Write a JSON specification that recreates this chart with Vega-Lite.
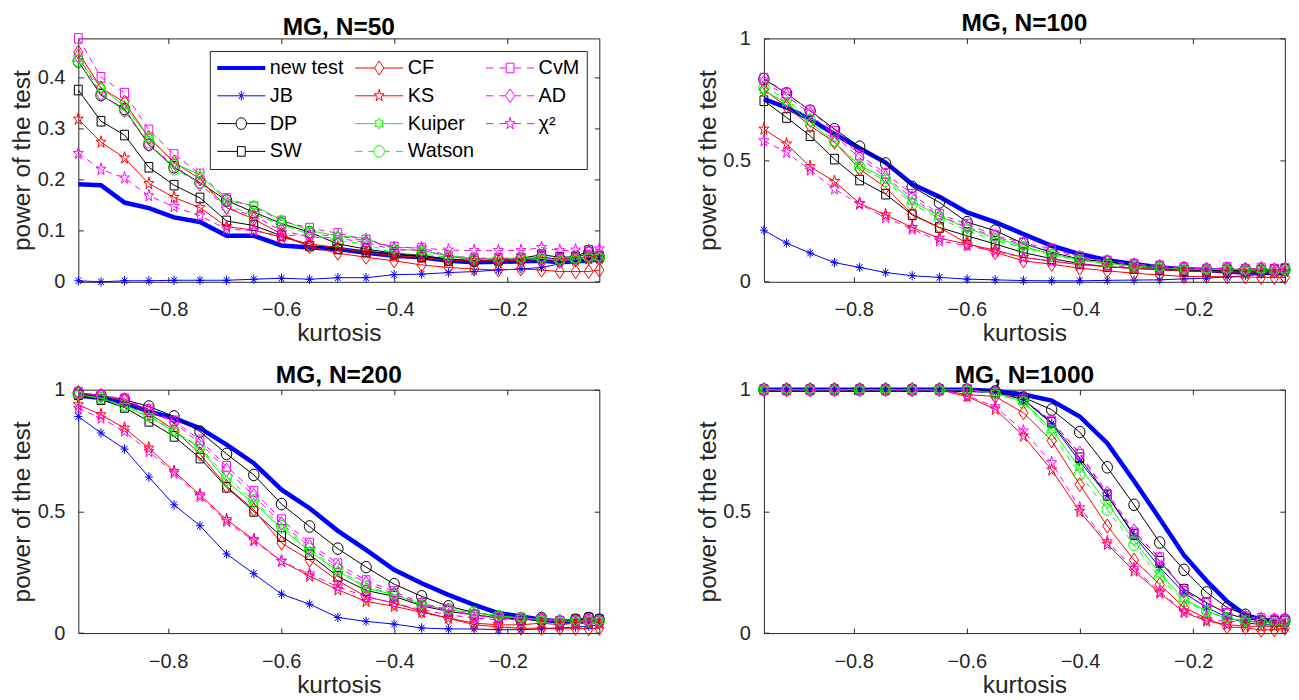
{
"$schema": "https://vega.github.io/schema/vega-lite/v6.json",
"background": "white",
"padding": {"left": 8.3, "top": 10.4, "right": 5, "bottom": 2},
"columns": 2,
"spacing": {"row": 107.3, "column": 164.6},
"bounds": "flush",
"datasets": {"power": [
{"N":50,"k":-0.95858,"new test":0.191,"JB":0.002,"DP":0.431,"SW":0.375,"CF":0.449,"KS":0.318,"Kuiper":0.436,"Watson":0.432,"CvM":0.476,"AD":0.442,"χ²":0.251},
{"N":50,"k":-0.9185,"new test":0.189,"JB":0.0,"DP":0.365,"SW":0.314,"CF":0.379,"KS":0.273,"Kuiper":0.379,"Watson":0.367,"CvM":0.400,"AD":0.367,"χ²":0.220},
{"N":50,"k":-0.87692,"new test":0.155,"JB":0.002,"DP":0.338,"SW":0.287,"CF":0.351,"KS":0.242,"Kuiper":0.344,"Watson":0.335,"CvM":0.369,"AD":0.335,"χ²":0.203},
{"N":50,"k":-0.83387,"new test":0.144,"JB":0.002,"DP":0.268,"SW":0.224,"CF":0.282,"KS":0.192,"Kuiper":0.282,"Watson":0.273,"CvM":0.297,"AD":0.268,"χ²":0.168},
{"N":50,"k":-0.7894,"new test":0.126,"JB":0.003,"DP":0.224,"SW":0.189,"CF":0.234,"KS":0.165,"Kuiper":0.232,"Watson":0.220,"CvM":0.249,"AD":0.227,"χ²":0.147},
{"N":50,"k":-0.7436,"new test":0.117,"JB":0.003,"DP":0.194,"SW":0.164,"CF":0.201,"KS":0.145,"Kuiper":0.209,"Watson":0.194,"CvM":0.211,"AD":0.191,"χ²":0.129},
{"N":50,"k":-0.69659,"new test":0.090,"JB":0.003,"DP":0.159,"SW":0.119,"CF":0.145,"KS":0.108,"Kuiper":0.159,"Watson":0.149,"CvM":0.163,"AD":0.145,"χ²":0.103},
{"N":50,"k":-0.6485,"new test":0.090,"JB":0.005,"DP":0.136,"SW":0.110,"CF":0.123,"KS":0.101,"Kuiper":0.149,"Watson":0.132,"CvM":0.147,"AD":0.129,"χ²":0.100},
{"N":50,"k":-0.59954,"new test":0.071,"JB":0.007,"DP":0.114,"SW":0.090,"CF":0.093,"KS":0.087,"Kuiper":0.121,"Watson":0.112,"CvM":0.119,"AD":0.100,"χ²":0.090},
{"N":50,"k":-0.54994,"new test":0.067,"JB":0.005,"DP":0.097,"SW":0.070,"CF":0.069,"KS":0.074,"Kuiper":0.100,"Watson":0.093,"CvM":0.105,"AD":0.088,"χ²":0.092},
{"N":50,"k":-0.5,"new test":0.064,"JB":0.008,"DP":0.074,"SW":0.064,"CF":0.056,"KS":0.067,"Kuiper":0.090,"Watson":0.080,"CvM":0.095,"AD":0.085,"χ²":0.090},
{"N":50,"k":-0.45007,"new test":0.057,"JB":0.008,"DP":0.064,"SW":0.059,"CF":0.048,"KS":0.057,"Kuiper":0.085,"Watson":0.074,"CvM":0.082,"AD":0.077,"χ²":0.080},
{"N":50,"k":-0.40054,"new test":0.051,"JB":0.014,"DP":0.056,"SW":0.054,"CF":0.041,"KS":0.051,"Kuiper":0.064,"Watson":0.055,"CvM":0.068,"AD":0.062,"χ²":0.067},
{"N":50,"k":-0.35187,"new test":0.048,"JB":0.015,"DP":0.051,"SW":0.048,"CF":0.033,"KS":0.048,"Kuiper":0.061,"Watson":0.054,"CvM":0.066,"AD":0.062,"χ²":0.066},
{"N":50,"k":-0.30458,"new test":0.041,"JB":0.018,"DP":0.044,"SW":0.041,"CF":0.028,"KS":0.041,"Kuiper":0.051,"Watson":0.048,"CvM":0.051,"AD":0.049,"χ²":0.062},
{"N":50,"k":-0.2592,"new test":0.038,"JB":0.020,"DP":0.041,"SW":0.041,"CF":0.025,"KS":0.041,"Kuiper":0.046,"Watson":0.044,"CvM":0.046,"AD":0.044,"χ²":0.061},
{"N":50,"k":-0.2163,"new test":0.039,"JB":0.023,"DP":0.042,"SW":0.042,"CF":0.023,"KS":0.041,"Kuiper":0.046,"Watson":0.044,"CvM":0.046,"AD":0.044,"χ²":0.061},
{"N":50,"k":-0.17643,"new test":0.040,"JB":0.025,"DP":0.044,"SW":0.046,"CF":0.025,"KS":0.042,"Kuiper":0.046,"Watson":0.046,"CvM":0.046,"AD":0.044,"χ²":0.061},
{"N":50,"k":-0.14014,"new test":0.041,"JB":0.028,"DP":0.048,"SW":0.053,"CF":0.023,"KS":0.044,"Kuiper":0.046,"Watson":0.046,"CvM":0.048,"AD":0.044,"χ²":0.067},
{"N":50,"k":-0.10788,"new test":0.038,"JB":0.035,"DP":0.044,"SW":0.048,"CF":0.020,"KS":0.042,"Kuiper":0.042,"Watson":0.042,"CvM":0.044,"AD":0.041,"χ²":0.061},
{"N":50,"k":-0.08,"new test":0.040,"JB":0.038,"DP":0.046,"SW":0.049,"CF":0.020,"KS":0.044,"Kuiper":0.044,"Watson":0.044,"CvM":0.046,"AD":0.044,"χ²":0.062},
{"N":50,"k":-0.05672,"new test":0.041,"JB":0.041,"DP":0.057,"SW":0.061,"CF":0.020,"KS":0.046,"Kuiper":0.048,"Watson":0.048,"CvM":0.049,"AD":0.048,"χ²":0.062},
{"N":50,"k":-0.03805,"new test":0.044,"JB":0.046,"DP":0.048,"SW":0.049,"CF":0.023,"KS":0.046,"Kuiper":0.048,"Watson":0.046,"CvM":0.051,"AD":0.048,"χ²":0.064},
{"N":100,"k":-0.95858,"new test":0.751,"JB":0.212,"DP":0.833,"SW":0.744,"CF":0.790,"KS":0.627,"Kuiper":0.785,"Watson":0.800,"CvM":0.837,"AD":0.820,"χ²":0.579},
{"N":100,"k":-0.9185,"new test":0.716,"JB":0.159,"DP":0.774,"SW":0.675,"CF":0.720,"KS":0.566,"Kuiper":0.735,"Watson":0.750,"CvM":0.775,"AD":0.765,"χ²":0.532},
{"N":100,"k":-0.87692,"new test":0.668,"JB":0.118,"DP":0.703,"SW":0.600,"CF":0.641,"KS":0.473,"Kuiper":0.655,"Watson":0.665,"CvM":0.703,"AD":0.690,"χ²":0.459},
{"N":100,"k":-0.83387,"new test":0.607,"JB":0.079,"DP":0.627,"SW":0.504,"CF":0.573,"KS":0.412,"Kuiper":0.573,"Watson":0.580,"CvM":0.618,"AD":0.600,"χ²":0.381},
{"N":100,"k":-0.7894,"new test":0.549,"JB":0.059,"DP":0.555,"SW":0.418,"CF":0.463,"KS":0.322,"Kuiper":0.478,"Watson":0.470,"CvM":0.521,"AD":0.510,"χ²":0.319},
{"N":100,"k":-0.7436,"new test":0.490,"JB":0.038,"DP":0.486,"SW":0.360,"CF":0.388,"KS":0.275,"Kuiper":0.425,"Watson":0.415,"CvM":0.445,"AD":0.430,"χ²":0.264},
{"N":100,"k":-0.69659,"new test":0.401,"JB":0.025,"DP":0.390,"SW":0.275,"CF":0.278,"KS":0.223,"Kuiper":0.330,"Watson":0.320,"CvM":0.360,"AD":0.345,"χ²":0.216},
{"N":100,"k":-0.6485,"new test":0.349,"JB":0.018,"DP":0.326,"SW":0.223,"CF":0.223,"KS":0.179,"Kuiper":0.270,"Watson":0.260,"CvM":0.278,"AD":0.270,"χ²":0.168},
{"N":100,"k":-0.59954,"new test":0.285,"JB":0.011,"DP":0.245,"SW":0.189,"CF":0.158,"KS":0.155,"Kuiper":0.220,"Watson":0.210,"CvM":0.237,"AD":0.225,"χ²":0.148},
{"N":100,"k":-0.54994,"new test":0.245,"JB":0.008,"DP":0.210,"SW":0.155,"CF":0.121,"KS":0.130,"Kuiper":0.180,"Watson":0.170,"CvM":0.190,"AD":0.185,"χ²":0.125},
{"N":100,"k":-0.5,"new test":0.196,"JB":0.005,"DP":0.157,"SW":0.120,"CF":0.086,"KS":0.100,"Kuiper":0.145,"Watson":0.140,"CvM":0.160,"AD":0.152,"χ²":0.100},
{"N":100,"k":-0.45007,"new test":0.148,"JB":0.004,"DP":0.121,"SW":0.095,"CF":0.072,"KS":0.085,"Kuiper":0.115,"Watson":0.110,"CvM":0.135,"AD":0.128,"χ²":0.085},
{"N":100,"k":-0.40054,"new test":0.114,"JB":0.004,"DP":0.093,"SW":0.075,"CF":0.056,"KS":0.070,"Kuiper":0.090,"Watson":0.088,"CvM":0.103,"AD":0.100,"χ²":0.072},
{"N":100,"k":-0.35187,"new test":0.089,"JB":0.006,"DP":0.082,"SW":0.062,"CF":0.045,"KS":0.062,"Kuiper":0.075,"Watson":0.073,"CvM":0.086,"AD":0.083,"χ²":0.065},
{"N":100,"k":-0.30458,"new test":0.073,"JB":0.007,"DP":0.068,"SW":0.055,"CF":0.035,"KS":0.055,"Kuiper":0.065,"Watson":0.063,"CvM":0.073,"AD":0.070,"χ²":0.060},
{"N":100,"k":-0.2592,"new test":0.059,"JB":0.008,"DP":0.060,"SW":0.050,"CF":0.028,"KS":0.050,"Kuiper":0.058,"Watson":0.057,"CvM":0.066,"AD":0.063,"χ²":0.055},
{"N":100,"k":-0.2163,"new test":0.052,"JB":0.012,"DP":0.053,"SW":0.046,"CF":0.022,"KS":0.045,"Kuiper":0.052,"Watson":0.051,"CvM":0.059,"AD":0.057,"χ²":0.052},
{"N":100,"k":-0.17643,"new test":0.048,"JB":0.015,"DP":0.050,"SW":0.045,"CF":0.022,"KS":0.042,"Kuiper":0.050,"Watson":0.049,"CvM":0.052,"AD":0.052,"χ²":0.050},
{"N":100,"k":-0.14014,"new test":0.042,"JB":0.020,"DP":0.052,"SW":0.048,"CF":0.020,"KS":0.040,"Kuiper":0.052,"Watson":0.050,"CvM":0.059,"AD":0.055,"χ²":0.052},
{"N":100,"k":-0.10788,"new test":0.038,"JB":0.025,"DP":0.050,"SW":0.045,"CF":0.020,"KS":0.040,"Kuiper":0.048,"Watson":0.047,"CvM":0.052,"AD":0.052,"χ²":0.050},
{"N":100,"k":-0.08,"new test":0.038,"JB":0.030,"DP":0.048,"SW":0.047,"CF":0.018,"KS":0.040,"Kuiper":0.050,"Watson":0.049,"CvM":0.057,"AD":0.055,"χ²":0.052},
{"N":100,"k":-0.05672,"new test":0.036,"JB":0.033,"DP":0.048,"SW":0.050,"CF":0.018,"KS":0.040,"Kuiper":0.047,"Watson":0.046,"CvM":0.052,"AD":0.050,"χ²":0.050},
{"N":100,"k":-0.03805,"new test":0.034,"JB":0.036,"DP":0.050,"SW":0.052,"CF":0.018,"KS":0.042,"Kuiper":0.050,"Watson":0.049,"CvM":0.055,"AD":0.052,"χ²":0.052},
{"N":200,"k":-0.95858,"new test":0.976,"JB":0.890,"DP":0.986,"SW":0.979,"CF":0.986,"KS":0.938,"Kuiper":0.979,"Watson":0.980,"CvM":0.990,"AD":0.990,"χ²":0.924},
{"N":200,"k":-0.9185,"new test":0.966,"JB":0.822,"DP":0.976,"SW":0.959,"CF":0.976,"KS":0.897,"Kuiper":0.966,"Watson":0.965,"CvM":0.976,"AD":0.975,"χ²":0.883},
{"N":200,"k":-0.87692,"new test":0.945,"JB":0.756,"DP":0.959,"SW":0.927,"CF":0.955,"KS":0.842,"Kuiper":0.931,"Watson":0.935,"CvM":0.963,"AD":0.960,"χ²":0.829},
{"N":200,"k":-0.83387,"new test":0.911,"JB":0.641,"DP":0.931,"SW":0.870,"CF":0.904,"KS":0.760,"Kuiper":0.890,"Watson":0.895,"CvM":0.918,"AD":0.915,"χ²":0.746},
{"N":200,"k":-0.7894,"new test":0.883,"JB":0.527,"DP":0.890,"SW":0.808,"CF":0.835,"KS":0.664,"Kuiper":0.828,"Watson":0.830,"CvM":0.872,"AD":0.865,"χ²":0.657},
{"N":200,"k":-0.7436,"new test":0.842,"JB":0.441,"DP":0.828,"SW":0.719,"CF":0.736,"KS":0.568,"Kuiper":0.760,"Watson":0.765,"CvM":0.794,"AD":0.780,"χ²":0.561},
{"N":200,"k":-0.69659,"new test":0.774,"JB":0.325,"DP":0.736,"SW":0.599,"CF":0.603,"KS":0.466,"Kuiper":0.623,"Watson":0.640,"CvM":0.685,"AD":0.670,"χ²":0.459},
{"N":200,"k":-0.6485,"new test":0.698,"JB":0.244,"DP":0.650,"SW":0.500,"CF":0.507,"KS":0.384,"Kuiper":0.534,"Watson":0.545,"CvM":0.582,"AD":0.565,"χ²":0.379},
{"N":200,"k":-0.59954,"new test":0.589,"JB":0.160,"DP":0.530,"SW":0.397,"CF":0.370,"KS":0.295,"Kuiper":0.431,"Watson":0.440,"CvM":0.466,"AD":0.450,"χ²":0.295},
{"N":200,"k":-0.54994,"new test":0.513,"JB":0.119,"DP":0.438,"SW":0.322,"CF":0.300,"KS":0.234,"Kuiper":0.336,"Watson":0.345,"CvM":0.370,"AD":0.355,"χ²":0.243},
{"N":200,"k":-0.5,"new test":0.420,"JB":0.064,"DP":0.347,"SW":0.233,"CF":0.215,"KS":0.178,"Kuiper":0.255,"Watson":0.262,"CvM":0.285,"AD":0.272,"χ²":0.190},
{"N":200,"k":-0.45007,"new test":0.342,"JB":0.048,"DP":0.271,"SW":0.175,"CF":0.150,"KS":0.130,"Kuiper":0.185,"Watson":0.190,"CvM":0.216,"AD":0.205,"χ²":0.150},
{"N":200,"k":-0.40054,"new test":0.260,"JB":0.037,"DP":0.201,"SW":0.151,"CF":0.123,"KS":0.110,"Kuiper":0.158,"Watson":0.160,"CvM":0.171,"AD":0.162,"χ²":0.123},
{"N":200,"k":-0.35187,"new test":0.205,"JB":0.021,"DP":0.151,"SW":0.112,"CF":0.090,"KS":0.085,"Kuiper":0.116,"Watson":0.120,"CvM":0.123,"AD":0.118,"χ²":0.096},
{"N":200,"k":-0.30458,"new test":0.157,"JB":0.017,"DP":0.110,"SW":0.089,"CF":0.060,"KS":0.062,"Kuiper":0.095,"Watson":0.098,"CvM":0.096,"AD":0.092,"χ²":0.075},
{"N":200,"k":-0.2592,"new test":0.116,"JB":0.017,"DP":0.085,"SW":0.075,"CF":0.035,"KS":0.041,"Kuiper":0.085,"Watson":0.085,"CvM":0.075,"AD":0.072,"χ²":0.062},
{"N":200,"k":-0.2163,"new test":0.082,"JB":0.014,"DP":0.069,"SW":0.062,"CF":0.025,"KS":0.034,"Kuiper":0.071,"Watson":0.070,"CvM":0.064,"AD":0.062,"χ²":0.055},
{"N":200,"k":-0.17643,"new test":0.068,"JB":0.014,"DP":0.055,"SW":0.055,"CF":0.020,"KS":0.034,"Kuiper":0.062,"Watson":0.062,"CvM":0.062,"AD":0.058,"χ²":0.055},
{"N":200,"k":-0.14014,"new test":0.055,"JB":0.017,"DP":0.062,"SW":0.055,"CF":0.020,"KS":0.041,"Kuiper":0.055,"Watson":0.058,"CvM":0.058,"AD":0.055,"χ²":0.062},
{"N":200,"k":-0.10788,"new test":0.048,"JB":0.021,"DP":0.048,"SW":0.048,"CF":0.020,"KS":0.034,"Kuiper":0.050,"Watson":0.050,"CvM":0.048,"AD":0.048,"χ²":0.048},
{"N":200,"k":-0.08,"new test":0.048,"JB":0.025,"DP":0.055,"SW":0.055,"CF":0.020,"KS":0.041,"Kuiper":0.050,"Watson":0.050,"CvM":0.048,"AD":0.046,"χ²":0.048},
{"N":200,"k":-0.05672,"new test":0.048,"JB":0.028,"DP":0.062,"SW":0.062,"CF":0.018,"KS":0.041,"Kuiper":0.050,"Watson":0.050,"CvM":0.055,"AD":0.052,"χ²":0.055},
{"N":200,"k":-0.03805,"new test":0.048,"JB":0.034,"DP":0.055,"SW":0.055,"CF":0.020,"KS":0.041,"Kuiper":0.050,"Watson":0.050,"CvM":0.048,"AD":0.046,"χ²":0.048},
{"N":1000,"k":-0.95858,"new test":1,"JB":1,"DP":1,"SW":1,"CF":1,"KS":1,"Kuiper":1,"Watson":1,"CvM":1,"AD":1,"χ²":1},
{"N":1000,"k":-0.9185,"new test":1,"JB":1,"DP":1,"SW":1,"CF":1,"KS":1,"Kuiper":1,"Watson":1,"CvM":1,"AD":1,"χ²":1},
{"N":1000,"k":-0.87692,"new test":1,"JB":1,"DP":1,"SW":1,"CF":1,"KS":1,"Kuiper":1,"Watson":1,"CvM":1,"AD":1,"χ²":1},
{"N":1000,"k":-0.83387,"new test":1,"JB":1,"DP":1,"SW":1,"CF":1,"KS":1,"Kuiper":1,"Watson":1,"CvM":1,"AD":1,"χ²":1},
{"N":1000,"k":-0.7894,"new test":1,"JB":1,"DP":1,"SW":1,"CF":1,"KS":1,"Kuiper":1,"Watson":1,"CvM":1,"AD":1,"χ²":1},
{"N":1000,"k":-0.7436,"new test":1,"JB":1,"DP":1,"SW":1,"CF":1,"KS":1,"Kuiper":1,"Watson":1,"CvM":1,"AD":1,"χ²":1},
{"N":1000,"k":-0.69659,"new test":1,"JB":1,"DP":1,"SW":1,"CF":1,"KS":1,"Kuiper":1,"Watson":1,"CvM":1,"AD":1,"χ²":1},
{"N":1000,"k":-0.6485,"new test":1,"JB":1,"DP":1,"SW":1,"CF":1,"KS":1,"Kuiper":1,"Watson":1,"CvM":1,"AD":1,"χ²":1},
{"N":1000,"k":-0.59954,"new test":1,"JB":1,"DP":1,"SW":1,"CF":0.980,"KS":0.972,"Kuiper":1,"Watson":1,"CvM":1,"AD":1,"χ²":0.975},
{"N":1000,"k":-0.54994,"new test":0.995,"JB":0.990,"DP":0.993,"SW":0.990,"CF":0.972,"KS":0.920,"Kuiper":0.985,"Watson":0.985,"CvM":0.988,"AD":0.988,"χ²":0.930},
{"N":1000,"k":-0.5,"new test":0.980,"JB":0.960,"DP":0.968,"SW":0.960,"CF":0.905,"KS":0.810,"Kuiper":0.952,"Watson":0.948,"CvM":0.960,"AD":0.960,"χ²":0.830},
{"N":1000,"k":-0.45007,"new test":0.955,"JB":0.860,"DP":0.918,"SW":0.865,"CF":0.790,"KS":0.670,"Kuiper":0.835,"Watson":0.820,"CvM":0.872,"AD":0.870,"χ²":0.700},
{"N":1000,"k":-0.40054,"new test":0.890,"JB":0.705,"DP":0.826,"SW":0.720,"CF":0.610,"KS":0.500,"Kuiper":0.680,"Watson":0.652,"CvM":0.735,"AD":0.740,"χ²":0.515},
{"N":1000,"k":-0.35187,"new test":0.780,"JB":0.565,"DP":0.681,"SW":0.565,"CF":0.440,"KS":0.365,"Kuiper":0.535,"Watson":0.507,"CvM":0.570,"AD":0.575,"χ²":0.375},
{"N":1000,"k":-0.30458,"new test":0.625,"JB":0.400,"DP":0.527,"SW":0.405,"CF":0.300,"KS":0.255,"Kuiper":0.380,"Watson":0.363,"CvM":0.412,"AD":0.420,"χ²":0.265},
{"N":1000,"k":-0.2592,"new test":0.470,"JB":0.270,"DP":0.372,"SW":0.295,"CF":0.200,"KS":0.165,"Kuiper":0.245,"Watson":0.228,"CvM":0.310,"AD":0.305,"χ²":0.170},
{"N":1000,"k":-0.2163,"new test":0.320,"JB":0.165,"DP":0.260,"SW":0.180,"CF":0.105,"KS":0.085,"Kuiper":0.140,"Watson":0.130,"CvM":0.172,"AD":0.175,"χ²":0.090},
{"N":1000,"k":-0.17643,"new test":0.215,"JB":0.105,"DP":0.167,"SW":0.125,"CF":0.060,"KS":0.050,"Kuiper":0.090,"Watson":0.089,"CvM":0.125,"AD":0.120,"χ²":0.056},
{"N":1000,"k":-0.14014,"new test":0.130,"JB":0.065,"DP":0.105,"SW":0.080,"CF":0.025,"KS":0.035,"Kuiper":0.060,"Watson":0.062,"CvM":0.082,"AD":0.080,"χ²":0.048},
{"N":1000,"k":-0.10788,"new test":0.075,"JB":0.042,"DP":0.075,"SW":0.060,"CF":0.022,"KS":0.028,"Kuiper":0.050,"Watson":0.051,"CvM":0.068,"AD":0.065,"χ²":0.046},
{"N":1000,"k":-0.08,"new test":0.055,"JB":0.035,"DP":0.050,"SW":0.050,"CF":0.012,"KS":0.028,"Kuiper":0.045,"Watson":0.048,"CvM":0.060,"AD":0.058,"χ²":0.046},
{"N":1000,"k":-0.05672,"new test":0.050,"JB":0.033,"DP":0.050,"SW":0.048,"CF":0.014,"KS":0.028,"Kuiper":0.045,"Watson":0.045,"CvM":0.055,"AD":0.055,"χ²":0.050},
{"N":1000,"k":-0.03805,"new test":0.048,"JB":0.028,"DP":0.055,"SW":0.050,"CF":0.020,"KS":0.028,"Kuiper":0.045,"Watson":0.048,"CvM":0.055,"AD":0.055,"χ²":0.050}
]},
"data": {"name": "power"},
"concat": [
{
 "width": 521, "height": 243.4,
 "title": "MG, N=50",
 "transform": [{"filter": {"field": "N", "equal": 50}}, {"fold": ["new test","JB","DP","SW","CF","KS","Kuiper","Watson","CvM","AD","χ²"], "as": ["test","power"]}],
 "resolve": {"axis": {"x": "independent", "y": "independent"}},
 "layer": [
  {"transform": [{"filter": {"field": "N", "equal": 0}}],
   "mark": {"type": "point", "filled": false, "size": 2304, "strokeWidth": 1, "opacity": 1},
   "encoding": {
    "x": {"field": "k", "type": "quantitative", "scale": {"domain": [-0.95858, -0.03805], "nice": false, "zero": false}, "axis": null},
    "y": {"field": "power", "type": "quantitative", "scale": {"domain": [0, 0.476], "nice": false, "zero": false}, "axis": null},
    "color": {"field": "test", "type": "nominal", "scale": {"domain": ["new test","JB","DP","SW","CF","KS","Kuiper","Watson","CvM","AD","χ²"], "range": ["#0000ff","#0000ff","#000000","#000000","#ff0000","#ff0000","#00ff00","#00ff00","#ff00ff","#ff00ff","#ff00ff"]},
      "legend": {"orient": "none", "legendX": 131.5, "legendY": 12.6, "columns": 3, "title": null}},
    "shape": {"field": "test", "type": "nominal", "scale": {"domain": ["new test","JB","DP","SW","CF","KS","Kuiper","Watson","CvM","AD","χ²"], "range": [
      "M-1,-0.0625H1M-1,-0.0208H1M-1,0.0208H1M-1,0.0625H1",
      "M-1,0H1M0,-0.196V0.196M-0.117,-0.137L0.117,0.137M-0.117,0.137L0.117,-0.137",
      "M-1,0H-0.217M0.217,0H1M0.217,0A0.217,0.242,0,1,1,-0.217,0A0.217,0.242,0,1,1,0.217,0Z",
      "M-1,0H-0.163M0.163,0H1M-0.163,-0.2H0.163V0.2H-0.163Z",
      "M-1,0H-0.192M0.192,0H1M0,-0.292L0.192,0L0,0.292L-0.192,0Z",
      "M-1,0H-0.12M0.12,0H1M0,-0.27L0.049,-0.083L0.208,-0.083L0.08,0.032L0.129,0.218L0,0.103L-0.129,0.218L-0.08,0.032L-0.208,-0.083L-0.049,-0.083Z",
      "M-1,0H-0.118M0.118,0H1M0,-0.229L0.059,-0.115L0.177,-0.115L0.118,0L0.177,0.115L0.059,0.115L0,0.229L-0.059,0.115L-0.177,0.115L-0.118,0L-0.177,-0.115L-0.059,-0.115Z",
      "M-1,0H-0.7M-0.45,0H-0.217M0.217,0H0.45M0.7,0H1M0.217,0A0.217,0.242,0,1,1,-0.217,0A0.217,0.242,0,1,1,0.217,0Z",
      "M-1,0H-0.7M-0.45,0H-0.163M0.163,0H0.45M0.7,0H1M-0.163,-0.2H0.163V0.2H-0.163Z",
      "M-1,0H-0.7M-0.45,0H-0.192M0.192,0H0.45M0.7,0H1M0,-0.292L0.192,0L0,0.292L-0.192,0Z",
      "M-1,0H-0.7M-0.45,0H-0.12M0.12,0H0.45M0.7,0H1M0,-0.27L0.049,-0.083L0.208,-0.083L0.08,0.032L0.129,0.218L0,0.103L-0.129,0.218L-0.08,0.032L-0.208,-0.083L-0.049,-0.083Z"
     ]},
      "legend": {"orient": "none", "legendX": 131.5, "legendY": 12.6, "columns": 3, "title": null}}
   }},
  {"transform": [{"filter": {"field": "test", "equal": "new test"}}],
   "mark": {"type": "line", "color": "#0000ff", "strokeWidth": 4.5},
   "encoding": {
    "x": {"field": "k", "type": "quantitative", "scale": {"domain": [-0.95858, -0.03805], "nice": false, "zero": false}, "axis": {"orient": "bottom", "values": [-0.8, -0.6, -0.4, -0.2], "format": "~g", "title": "kurtosis"}},
    "y": {"field": "power", "type": "quantitative", "scale": {"domain": [0, 0.476], "nice": false, "zero": false}, "axis": {"orient": "left", "values": [0, 0.1, 0.2, 0.3, 0.4], "format": "~g", "title": "power of the test"}}
   }},
  {"transform": [{"filter": {"field": "test", "oneOf": ["JB","DP","SW","CF","KS","Kuiper"]}}],
   "mark": {"type": "line", "strokeWidth": 1},
   "encoding": {
    "x": {"field": "k", "type": "quantitative", "scale": {"domain": [-0.95858, -0.03805], "nice": false, "zero": false}, "axis": {"orient": "top", "values": [-0.8, -0.6, -0.4, -0.2], "labels": false, "title": null, "labelPadding": 0, "minExtent": 0, "maxExtent": 0}},
    "y": {"field": "power", "type": "quantitative", "scale": {"domain": [0, 0.476], "nice": false, "zero": false}, "axis": {"orient": "right", "values": [0, 0.1, 0.2, 0.3, 0.4], "labels": false, "title": null, "labelPadding": 0, "minExtent": 0, "maxExtent": 0}},
    "color": {"field": "test", "type": "nominal", "scale": {"domain": ["new test","JB","DP","SW","CF","KS","Kuiper","Watson","CvM","AD","χ²"], "range": ["#0000ff","#0000ff","#000000","#000000","#ff0000","#ff0000","#00ff00","#00ff00","#ff00ff","#ff00ff","#ff00ff"]}}
   }},
  {"transform": [{"filter": {"field": "test", "oneOf": ["Watson","CvM","AD","χ²"]}}],
   "mark": {"type": "line", "strokeWidth": 1, "strokeDash": [6, 5]},
   "encoding": {
    "x": {"field": "k", "type": "quantitative", "scale": {"domain": [-0.95858, -0.03805], "nice": false, "zero": false}, "axis": null},
    "y": {"field": "power", "type": "quantitative", "scale": {"domain": [0, 0.476], "nice": false, "zero": false}, "axis": null},
    "color": {"field": "test", "type": "nominal", "scale": {"domain": ["new test","JB","DP","SW","CF","KS","Kuiper","Watson","CvM","AD","χ²"], "range": ["#0000ff","#0000ff","#000000","#000000","#ff0000","#ff0000","#00ff00","#00ff00","#ff00ff","#ff00ff","#ff00ff"]}}
   }},
  {"transform": [{"filter": {"field": "test", "oneOf": ["JB"]}}],
   "mark": {"type": "point", "shape": "M-0.67,0H0.67M0,-0.78V0.78M-0.47,-0.55L0.47,0.55M-0.47,0.55L0.47,-0.55", "size": 144, "filled": false, "strokeWidth": 1, "opacity": 1},
   "encoding": {
    "x": {"field": "k", "type": "quantitative", "scale": {"domain": [-0.95858, -0.03805], "nice": false, "zero": false}, "axis": null},
    "y": {"field": "power", "type": "quantitative", "scale": {"domain": [0, 0.476], "nice": false, "zero": false}, "axis": null},
    "color": {"field": "test", "type": "nominal", "scale": {"domain": ["new test","JB","DP","SW","CF","KS","Kuiper","Watson","CvM","AD","χ²"], "range": ["#0000ff","#0000ff","#000000","#000000","#ff0000","#ff0000","#00ff00","#00ff00","#ff00ff","#ff00ff","#ff00ff"]}}
   }},
  {"transform": [{"filter": {"field": "test", "oneOf": ["DP","Watson"]}}],
   "mark": {"type": "point", "shape": "M0.87,0A0.87,0.97,0,1,1,-0.87,0A0.87,0.97,0,1,1,0.87,0Z", "size": 144, "filled": false, "strokeWidth": 1, "opacity": 1},
   "encoding": {
    "x": {"field": "k", "type": "quantitative", "scale": {"domain": [-0.95858, -0.03805], "nice": false, "zero": false}, "axis": null},
    "y": {"field": "power", "type": "quantitative", "scale": {"domain": [0, 0.476], "nice": false, "zero": false}, "axis": null},
    "color": {"field": "test", "type": "nominal", "scale": {"domain": ["new test","JB","DP","SW","CF","KS","Kuiper","Watson","CvM","AD","χ²"], "range": ["#0000ff","#0000ff","#000000","#000000","#ff0000","#ff0000","#00ff00","#00ff00","#ff00ff","#ff00ff","#ff00ff"]}}
   }},
  {"transform": [{"filter": {"field": "test", "oneOf": ["SW","CvM"]}}],
   "mark": {"type": "point", "shape": "M-0.65,-0.8H0.65V0.8H-0.65Z", "size": 144, "filled": false, "strokeWidth": 1, "opacity": 1},
   "encoding": {
    "x": {"field": "k", "type": "quantitative", "scale": {"domain": [-0.95858, -0.03805], "nice": false, "zero": false}, "axis": null},
    "y": {"field": "power", "type": "quantitative", "scale": {"domain": [0, 0.476], "nice": false, "zero": false}, "axis": null},
    "color": {"field": "test", "type": "nominal", "scale": {"domain": ["new test","JB","DP","SW","CF","KS","Kuiper","Watson","CvM","AD","χ²"], "range": ["#0000ff","#0000ff","#000000","#000000","#ff0000","#ff0000","#00ff00","#00ff00","#ff00ff","#ff00ff","#ff00ff"]}}
   }},
  {"transform": [{"filter": {"field": "test", "oneOf": ["CF","AD"]}}],
   "mark": {"type": "point", "shape": "M0,-1.17L0.77,0L0,1.17L-0.77,0Z", "size": 144, "filled": false, "strokeWidth": 1, "opacity": 1},
   "encoding": {
    "x": {"field": "k", "type": "quantitative", "scale": {"domain": [-0.95858, -0.03805], "nice": false, "zero": false}, "axis": null},
    "y": {"field": "power", "type": "quantitative", "scale": {"domain": [0, 0.476], "nice": false, "zero": false}, "axis": null},
    "color": {"field": "test", "type": "nominal", "scale": {"domain": ["new test","JB","DP","SW","CF","KS","Kuiper","Watson","CvM","AD","χ²"], "range": ["#0000ff","#0000ff","#000000","#000000","#ff0000","#ff0000","#00ff00","#00ff00","#ff00ff","#ff00ff","#ff00ff"]}}
   }},
  {"transform": [{"filter": {"field": "test", "oneOf": ["KS","χ²"]}}],
   "mark": {"type": "point", "shape": "M0,-1.078L0.197,-0.333L0.834,-0.333L0.319,0.127L0.516,0.872L0,0.412L-0.516,0.872L-0.319,0.127L-0.834,-0.333L-0.197,-0.333Z", "size": 144, "filled": false, "strokeWidth": 1, "opacity": 1},
   "encoding": {
    "x": {"field": "k", "type": "quantitative", "scale": {"domain": [-0.95858, -0.03805], "nice": false, "zero": false}, "axis": null},
    "y": {"field": "power", "type": "quantitative", "scale": {"domain": [0, 0.476], "nice": false, "zero": false}, "axis": null},
    "color": {"field": "test", "type": "nominal", "scale": {"domain": ["new test","JB","DP","SW","CF","KS","Kuiper","Watson","CvM","AD","χ²"], "range": ["#0000ff","#0000ff","#000000","#000000","#ff0000","#ff0000","#00ff00","#00ff00","#ff00ff","#ff00ff","#ff00ff"]}}
   }},
  {"transform": [{"filter": {"field": "test", "oneOf": ["Kuiper"]}}],
   "mark": {"type": "point", "shape": "M0,-0.917L0.236,-0.458L0.707,-0.458L0.471,0L0.707,0.458L0.236,0.458L0,0.917L-0.236,0.458L-0.707,0.458L-0.471,0L-0.707,-0.458L-0.236,-0.458Z", "size": 144, "filled": false, "strokeWidth": 1, "opacity": 1},
   "encoding": {
    "x": {"field": "k", "type": "quantitative", "scale": {"domain": [-0.95858, -0.03805], "nice": false, "zero": false}, "axis": null},
    "y": {"field": "power", "type": "quantitative", "scale": {"domain": [0, 0.476], "nice": false, "zero": false}, "axis": null},
    "color": {"field": "test", "type": "nominal", "scale": {"domain": ["new test","JB","DP","SW","CF","KS","Kuiper","Watson","CvM","AD","χ²"], "range": ["#0000ff","#0000ff","#000000","#000000","#ff0000","#ff0000","#00ff00","#00ff00","#ff00ff","#ff00ff","#ff00ff"]}}
   }}
 ]
},
{
 "width": 521, "height": 243.4,
 "title": "MG, N=100",
 "transform": [{"filter": {"field": "N", "equal": 100}}, {"fold": ["new test","JB","DP","SW","CF","KS","Kuiper","Watson","CvM","AD","χ²"], "as": ["test","power"]}],
 "resolve": {"axis": {"x": "independent", "y": "independent"}},
 "layer": [
  {"transform": [{"filter": {"field": "test", "equal": "new test"}}],
   "mark": {"type": "line", "color": "#0000ff", "strokeWidth": 4.5},
   "encoding": {
    "x": {"field": "k", "type": "quantitative", "scale": {"domain": [-0.95858, -0.03805], "nice": false, "zero": false}, "axis": {"orient": "bottom", "values": [-0.8, -0.6, -0.4, -0.2], "format": "~g", "title": "kurtosis"}},
    "y": {"field": "power", "type": "quantitative", "scale": {"domain": [0, 1], "nice": false, "zero": false}, "axis": {"orient": "left", "values": [0, 0.5, 1], "format": "~g", "title": "power of the test"}}
   }},
  {"transform": [{"filter": {"field": "test", "oneOf": ["JB","DP","SW","CF","KS","Kuiper"]}}],
   "mark": {"type": "line", "strokeWidth": 1},
   "encoding": {
    "x": {"field": "k", "type": "quantitative", "scale": {"domain": [-0.95858, -0.03805], "nice": false, "zero": false}, "axis": {"orient": "top", "values": [-0.8, -0.6, -0.4, -0.2], "labels": false, "title": null, "labelPadding": 0, "minExtent": 0, "maxExtent": 0}},
    "y": {"field": "power", "type": "quantitative", "scale": {"domain": [0, 1], "nice": false, "zero": false}, "axis": {"orient": "right", "values": [0, 0.5, 1], "labels": false, "title": null, "labelPadding": 0, "minExtent": 0, "maxExtent": 0}},
    "color": {"field": "test", "type": "nominal", "scale": {"domain": ["new test","JB","DP","SW","CF","KS","Kuiper","Watson","CvM","AD","χ²"], "range": ["#0000ff","#0000ff","#000000","#000000","#ff0000","#ff0000","#00ff00","#00ff00","#ff00ff","#ff00ff","#ff00ff"]}}
   }},
  {"transform": [{"filter": {"field": "test", "oneOf": ["Watson","CvM","AD","χ²"]}}],
   "mark": {"type": "line", "strokeWidth": 1, "strokeDash": [6, 5]},
   "encoding": {
    "x": {"field": "k", "type": "quantitative", "scale": {"domain": [-0.95858, -0.03805], "nice": false, "zero": false}, "axis": null},
    "y": {"field": "power", "type": "quantitative", "scale": {"domain": [0, 1], "nice": false, "zero": false}, "axis": null},
    "color": {"field": "test", "type": "nominal", "scale": {"domain": ["new test","JB","DP","SW","CF","KS","Kuiper","Watson","CvM","AD","χ²"], "range": ["#0000ff","#0000ff","#000000","#000000","#ff0000","#ff0000","#00ff00","#00ff00","#ff00ff","#ff00ff","#ff00ff"]}}
   }},
  {"transform": [{"filter": {"field": "test", "oneOf": ["JB"]}}],
   "mark": {"type": "point", "shape": "M-0.67,0H0.67M0,-0.78V0.78M-0.47,-0.55L0.47,0.55M-0.47,0.55L0.47,-0.55", "size": 144, "filled": false, "strokeWidth": 1, "opacity": 1},
   "encoding": {
    "x": {"field": "k", "type": "quantitative", "scale": {"domain": [-0.95858, -0.03805], "nice": false, "zero": false}, "axis": null},
    "y": {"field": "power", "type": "quantitative", "scale": {"domain": [0, 1], "nice": false, "zero": false}, "axis": null},
    "color": {"field": "test", "type": "nominal", "scale": {"domain": ["new test","JB","DP","SW","CF","KS","Kuiper","Watson","CvM","AD","χ²"], "range": ["#0000ff","#0000ff","#000000","#000000","#ff0000","#ff0000","#00ff00","#00ff00","#ff00ff","#ff00ff","#ff00ff"]}}
   }},
  {"transform": [{"filter": {"field": "test", "oneOf": ["DP","Watson"]}}],
   "mark": {"type": "point", "shape": "M0.87,0A0.87,0.97,0,1,1,-0.87,0A0.87,0.97,0,1,1,0.87,0Z", "size": 144, "filled": false, "strokeWidth": 1, "opacity": 1},
   "encoding": {
    "x": {"field": "k", "type": "quantitative", "scale": {"domain": [-0.95858, -0.03805], "nice": false, "zero": false}, "axis": null},
    "y": {"field": "power", "type": "quantitative", "scale": {"domain": [0, 1], "nice": false, "zero": false}, "axis": null},
    "color": {"field": "test", "type": "nominal", "scale": {"domain": ["new test","JB","DP","SW","CF","KS","Kuiper","Watson","CvM","AD","χ²"], "range": ["#0000ff","#0000ff","#000000","#000000","#ff0000","#ff0000","#00ff00","#00ff00","#ff00ff","#ff00ff","#ff00ff"]}}
   }},
  {"transform": [{"filter": {"field": "test", "oneOf": ["SW","CvM"]}}],
   "mark": {"type": "point", "shape": "M-0.65,-0.8H0.65V0.8H-0.65Z", "size": 144, "filled": false, "strokeWidth": 1, "opacity": 1},
   "encoding": {
    "x": {"field": "k", "type": "quantitative", "scale": {"domain": [-0.95858, -0.03805], "nice": false, "zero": false}, "axis": null},
    "y": {"field": "power", "type": "quantitative", "scale": {"domain": [0, 1], "nice": false, "zero": false}, "axis": null},
    "color": {"field": "test", "type": "nominal", "scale": {"domain": ["new test","JB","DP","SW","CF","KS","Kuiper","Watson","CvM","AD","χ²"], "range": ["#0000ff","#0000ff","#000000","#000000","#ff0000","#ff0000","#00ff00","#00ff00","#ff00ff","#ff00ff","#ff00ff"]}}
   }},
  {"transform": [{"filter": {"field": "test", "oneOf": ["CF","AD"]}}],
   "mark": {"type": "point", "shape": "M0,-1.17L0.77,0L0,1.17L-0.77,0Z", "size": 144, "filled": false, "strokeWidth": 1, "opacity": 1},
   "encoding": {
    "x": {"field": "k", "type": "quantitative", "scale": {"domain": [-0.95858, -0.03805], "nice": false, "zero": false}, "axis": null},
    "y": {"field": "power", "type": "quantitative", "scale": {"domain": [0, 1], "nice": false, "zero": false}, "axis": null},
    "color": {"field": "test", "type": "nominal", "scale": {"domain": ["new test","JB","DP","SW","CF","KS","Kuiper","Watson","CvM","AD","χ²"], "range": ["#0000ff","#0000ff","#000000","#000000","#ff0000","#ff0000","#00ff00","#00ff00","#ff00ff","#ff00ff","#ff00ff"]}}
   }},
  {"transform": [{"filter": {"field": "test", "oneOf": ["KS","χ²"]}}],
   "mark": {"type": "point", "shape": "M0,-1.078L0.197,-0.333L0.834,-0.333L0.319,0.127L0.516,0.872L0,0.412L-0.516,0.872L-0.319,0.127L-0.834,-0.333L-0.197,-0.333Z", "size": 144, "filled": false, "strokeWidth": 1, "opacity": 1},
   "encoding": {
    "x": {"field": "k", "type": "quantitative", "scale": {"domain": [-0.95858, -0.03805], "nice": false, "zero": false}, "axis": null},
    "y": {"field": "power", "type": "quantitative", "scale": {"domain": [0, 1], "nice": false, "zero": false}, "axis": null},
    "color": {"field": "test", "type": "nominal", "scale": {"domain": ["new test","JB","DP","SW","CF","KS","Kuiper","Watson","CvM","AD","χ²"], "range": ["#0000ff","#0000ff","#000000","#000000","#ff0000","#ff0000","#00ff00","#00ff00","#ff00ff","#ff00ff","#ff00ff"]}}
   }},
  {"transform": [{"filter": {"field": "test", "oneOf": ["Kuiper"]}}],
   "mark": {"type": "point", "shape": "M0,-0.917L0.236,-0.458L0.707,-0.458L0.471,0L0.707,0.458L0.236,0.458L0,0.917L-0.236,0.458L-0.707,0.458L-0.471,0L-0.707,-0.458L-0.236,-0.458Z", "size": 144, "filled": false, "strokeWidth": 1, "opacity": 1},
   "encoding": {
    "x": {"field": "k", "type": "quantitative", "scale": {"domain": [-0.95858, -0.03805], "nice": false, "zero": false}, "axis": null},
    "y": {"field": "power", "type": "quantitative", "scale": {"domain": [0, 1], "nice": false, "zero": false}, "axis": null},
    "color": {"field": "test", "type": "nominal", "scale": {"domain": ["new test","JB","DP","SW","CF","KS","Kuiper","Watson","CvM","AD","χ²"], "range": ["#0000ff","#0000ff","#000000","#000000","#ff0000","#ff0000","#00ff00","#00ff00","#ff00ff","#ff00ff","#ff00ff"]}}
   }}
 ]
},
{
 "width": 521, "height": 243.4,
 "title": "MG, N=200",
 "transform": [{"filter": {"field": "N", "equal": 200}}, {"fold": ["new test","JB","DP","SW","CF","KS","Kuiper","Watson","CvM","AD","χ²"], "as": ["test","power"]}],
 "resolve": {"axis": {"x": "independent", "y": "independent"}},
 "layer": [
  {"transform": [{"filter": {"field": "test", "equal": "new test"}}],
   "mark": {"type": "line", "color": "#0000ff", "strokeWidth": 4.5},
   "encoding": {
    "x": {"field": "k", "type": "quantitative", "scale": {"domain": [-0.95858, -0.03805], "nice": false, "zero": false}, "axis": {"orient": "bottom", "values": [-0.8, -0.6, -0.4, -0.2], "format": "~g", "title": "kurtosis"}},
    "y": {"field": "power", "type": "quantitative", "scale": {"domain": [0, 1], "nice": false, "zero": false}, "axis": {"orient": "left", "values": [0, 0.5, 1], "format": "~g", "title": "power of the test"}}
   }},
  {"transform": [{"filter": {"field": "test", "oneOf": ["JB","DP","SW","CF","KS","Kuiper"]}}],
   "mark": {"type": "line", "strokeWidth": 1},
   "encoding": {
    "x": {"field": "k", "type": "quantitative", "scale": {"domain": [-0.95858, -0.03805], "nice": false, "zero": false}, "axis": {"orient": "top", "values": [-0.8, -0.6, -0.4, -0.2], "labels": false, "title": null, "labelPadding": 0, "minExtent": 0, "maxExtent": 0}},
    "y": {"field": "power", "type": "quantitative", "scale": {"domain": [0, 1], "nice": false, "zero": false}, "axis": {"orient": "right", "values": [0, 0.5, 1], "labels": false, "title": null, "labelPadding": 0, "minExtent": 0, "maxExtent": 0}},
    "color": {"field": "test", "type": "nominal", "scale": {"domain": ["new test","JB","DP","SW","CF","KS","Kuiper","Watson","CvM","AD","χ²"], "range": ["#0000ff","#0000ff","#000000","#000000","#ff0000","#ff0000","#00ff00","#00ff00","#ff00ff","#ff00ff","#ff00ff"]}}
   }},
  {"transform": [{"filter": {"field": "test", "oneOf": ["Watson","CvM","AD","χ²"]}}],
   "mark": {"type": "line", "strokeWidth": 1, "strokeDash": [6, 5]},
   "encoding": {
    "x": {"field": "k", "type": "quantitative", "scale": {"domain": [-0.95858, -0.03805], "nice": false, "zero": false}, "axis": null},
    "y": {"field": "power", "type": "quantitative", "scale": {"domain": [0, 1], "nice": false, "zero": false}, "axis": null},
    "color": {"field": "test", "type": "nominal", "scale": {"domain": ["new test","JB","DP","SW","CF","KS","Kuiper","Watson","CvM","AD","χ²"], "range": ["#0000ff","#0000ff","#000000","#000000","#ff0000","#ff0000","#00ff00","#00ff00","#ff00ff","#ff00ff","#ff00ff"]}}
   }},
  {"transform": [{"filter": {"field": "test", "oneOf": ["JB"]}}],
   "mark": {"type": "point", "shape": "M-0.67,0H0.67M0,-0.78V0.78M-0.47,-0.55L0.47,0.55M-0.47,0.55L0.47,-0.55", "size": 144, "filled": false, "strokeWidth": 1, "opacity": 1},
   "encoding": {
    "x": {"field": "k", "type": "quantitative", "scale": {"domain": [-0.95858, -0.03805], "nice": false, "zero": false}, "axis": null},
    "y": {"field": "power", "type": "quantitative", "scale": {"domain": [0, 1], "nice": false, "zero": false}, "axis": null},
    "color": {"field": "test", "type": "nominal", "scale": {"domain": ["new test","JB","DP","SW","CF","KS","Kuiper","Watson","CvM","AD","χ²"], "range": ["#0000ff","#0000ff","#000000","#000000","#ff0000","#ff0000","#00ff00","#00ff00","#ff00ff","#ff00ff","#ff00ff"]}}
   }},
  {"transform": [{"filter": {"field": "test", "oneOf": ["DP","Watson"]}}],
   "mark": {"type": "point", "shape": "M0.87,0A0.87,0.97,0,1,1,-0.87,0A0.87,0.97,0,1,1,0.87,0Z", "size": 144, "filled": false, "strokeWidth": 1, "opacity": 1},
   "encoding": {
    "x": {"field": "k", "type": "quantitative", "scale": {"domain": [-0.95858, -0.03805], "nice": false, "zero": false}, "axis": null},
    "y": {"field": "power", "type": "quantitative", "scale": {"domain": [0, 1], "nice": false, "zero": false}, "axis": null},
    "color": {"field": "test", "type": "nominal", "scale": {"domain": ["new test","JB","DP","SW","CF","KS","Kuiper","Watson","CvM","AD","χ²"], "range": ["#0000ff","#0000ff","#000000","#000000","#ff0000","#ff0000","#00ff00","#00ff00","#ff00ff","#ff00ff","#ff00ff"]}}
   }},
  {"transform": [{"filter": {"field": "test", "oneOf": ["SW","CvM"]}}],
   "mark": {"type": "point", "shape": "M-0.65,-0.8H0.65V0.8H-0.65Z", "size": 144, "filled": false, "strokeWidth": 1, "opacity": 1},
   "encoding": {
    "x": {"field": "k", "type": "quantitative", "scale": {"domain": [-0.95858, -0.03805], "nice": false, "zero": false}, "axis": null},
    "y": {"field": "power", "type": "quantitative", "scale": {"domain": [0, 1], "nice": false, "zero": false}, "axis": null},
    "color": {"field": "test", "type": "nominal", "scale": {"domain": ["new test","JB","DP","SW","CF","KS","Kuiper","Watson","CvM","AD","χ²"], "range": ["#0000ff","#0000ff","#000000","#000000","#ff0000","#ff0000","#00ff00","#00ff00","#ff00ff","#ff00ff","#ff00ff"]}}
   }},
  {"transform": [{"filter": {"field": "test", "oneOf": ["CF","AD"]}}],
   "mark": {"type": "point", "shape": "M0,-1.17L0.77,0L0,1.17L-0.77,0Z", "size": 144, "filled": false, "strokeWidth": 1, "opacity": 1},
   "encoding": {
    "x": {"field": "k", "type": "quantitative", "scale": {"domain": [-0.95858, -0.03805], "nice": false, "zero": false}, "axis": null},
    "y": {"field": "power", "type": "quantitative", "scale": {"domain": [0, 1], "nice": false, "zero": false}, "axis": null},
    "color": {"field": "test", "type": "nominal", "scale": {"domain": ["new test","JB","DP","SW","CF","KS","Kuiper","Watson","CvM","AD","χ²"], "range": ["#0000ff","#0000ff","#000000","#000000","#ff0000","#ff0000","#00ff00","#00ff00","#ff00ff","#ff00ff","#ff00ff"]}}
   }},
  {"transform": [{"filter": {"field": "test", "oneOf": ["KS","χ²"]}}],
   "mark": {"type": "point", "shape": "M0,-1.078L0.197,-0.333L0.834,-0.333L0.319,0.127L0.516,0.872L0,0.412L-0.516,0.872L-0.319,0.127L-0.834,-0.333L-0.197,-0.333Z", "size": 144, "filled": false, "strokeWidth": 1, "opacity": 1},
   "encoding": {
    "x": {"field": "k", "type": "quantitative", "scale": {"domain": [-0.95858, -0.03805], "nice": false, "zero": false}, "axis": null},
    "y": {"field": "power", "type": "quantitative", "scale": {"domain": [0, 1], "nice": false, "zero": false}, "axis": null},
    "color": {"field": "test", "type": "nominal", "scale": {"domain": ["new test","JB","DP","SW","CF","KS","Kuiper","Watson","CvM","AD","χ²"], "range": ["#0000ff","#0000ff","#000000","#000000","#ff0000","#ff0000","#00ff00","#00ff00","#ff00ff","#ff00ff","#ff00ff"]}}
   }},
  {"transform": [{"filter": {"field": "test", "oneOf": ["Kuiper"]}}],
   "mark": {"type": "point", "shape": "M0,-0.917L0.236,-0.458L0.707,-0.458L0.471,0L0.707,0.458L0.236,0.458L0,0.917L-0.236,0.458L-0.707,0.458L-0.471,0L-0.707,-0.458L-0.236,-0.458Z", "size": 144, "filled": false, "strokeWidth": 1, "opacity": 1},
   "encoding": {
    "x": {"field": "k", "type": "quantitative", "scale": {"domain": [-0.95858, -0.03805], "nice": false, "zero": false}, "axis": null},
    "y": {"field": "power", "type": "quantitative", "scale": {"domain": [0, 1], "nice": false, "zero": false}, "axis": null},
    "color": {"field": "test", "type": "nominal", "scale": {"domain": ["new test","JB","DP","SW","CF","KS","Kuiper","Watson","CvM","AD","χ²"], "range": ["#0000ff","#0000ff","#000000","#000000","#ff0000","#ff0000","#00ff00","#00ff00","#ff00ff","#ff00ff","#ff00ff"]}}
   }}
 ]
},
{
 "width": 521, "height": 243.4,
 "title": "MG, N=1000",
 "transform": [{"filter": {"field": "N", "equal": 1000}}, {"fold": ["new test","JB","DP","SW","CF","KS","Kuiper","Watson","CvM","AD","χ²"], "as": ["test","power"]}],
 "resolve": {"axis": {"x": "independent", "y": "independent"}},
 "layer": [
  {"transform": [{"filter": {"field": "test", "equal": "new test"}}],
   "mark": {"type": "line", "color": "#0000ff", "strokeWidth": 4.5},
   "encoding": {
    "x": {"field": "k", "type": "quantitative", "scale": {"domain": [-0.95858, -0.03805], "nice": false, "zero": false}, "axis": {"orient": "bottom", "values": [-0.8, -0.6, -0.4, -0.2], "format": "~g", "title": "kurtosis"}},
    "y": {"field": "power", "type": "quantitative", "scale": {"domain": [0, 1], "nice": false, "zero": false}, "axis": {"orient": "left", "values": [0, 0.5, 1], "format": "~g", "title": "power of the test"}}
   }},
  {"transform": [{"filter": {"field": "test", "oneOf": ["JB","DP","SW","CF","KS","Kuiper"]}}],
   "mark": {"type": "line", "strokeWidth": 1},
   "encoding": {
    "x": {"field": "k", "type": "quantitative", "scale": {"domain": [-0.95858, -0.03805], "nice": false, "zero": false}, "axis": {"orient": "top", "values": [-0.8, -0.6, -0.4, -0.2], "labels": false, "title": null, "labelPadding": 0, "minExtent": 0, "maxExtent": 0}},
    "y": {"field": "power", "type": "quantitative", "scale": {"domain": [0, 1], "nice": false, "zero": false}, "axis": {"orient": "right", "values": [0, 0.5, 1], "labels": false, "title": null, "labelPadding": 0, "minExtent": 0, "maxExtent": 0}},
    "color": {"field": "test", "type": "nominal", "scale": {"domain": ["new test","JB","DP","SW","CF","KS","Kuiper","Watson","CvM","AD","χ²"], "range": ["#0000ff","#0000ff","#000000","#000000","#ff0000","#ff0000","#00ff00","#00ff00","#ff00ff","#ff00ff","#ff00ff"]}}
   }},
  {"transform": [{"filter": {"field": "test", "oneOf": ["Watson","CvM","AD","χ²"]}}],
   "mark": {"type": "line", "strokeWidth": 1, "strokeDash": [6, 5]},
   "encoding": {
    "x": {"field": "k", "type": "quantitative", "scale": {"domain": [-0.95858, -0.03805], "nice": false, "zero": false}, "axis": null},
    "y": {"field": "power", "type": "quantitative", "scale": {"domain": [0, 1], "nice": false, "zero": false}, "axis": null},
    "color": {"field": "test", "type": "nominal", "scale": {"domain": ["new test","JB","DP","SW","CF","KS","Kuiper","Watson","CvM","AD","χ²"], "range": ["#0000ff","#0000ff","#000000","#000000","#ff0000","#ff0000","#00ff00","#00ff00","#ff00ff","#ff00ff","#ff00ff"]}}
   }},
  {"transform": [{"filter": {"field": "test", "oneOf": ["JB"]}}],
   "mark": {"type": "point", "shape": "M-0.67,0H0.67M0,-0.78V0.78M-0.47,-0.55L0.47,0.55M-0.47,0.55L0.47,-0.55", "size": 144, "filled": false, "strokeWidth": 1, "opacity": 1},
   "encoding": {
    "x": {"field": "k", "type": "quantitative", "scale": {"domain": [-0.95858, -0.03805], "nice": false, "zero": false}, "axis": null},
    "y": {"field": "power", "type": "quantitative", "scale": {"domain": [0, 1], "nice": false, "zero": false}, "axis": null},
    "color": {"field": "test", "type": "nominal", "scale": {"domain": ["new test","JB","DP","SW","CF","KS","Kuiper","Watson","CvM","AD","χ²"], "range": ["#0000ff","#0000ff","#000000","#000000","#ff0000","#ff0000","#00ff00","#00ff00","#ff00ff","#ff00ff","#ff00ff"]}}
   }},
  {"transform": [{"filter": {"field": "test", "oneOf": ["DP","Watson"]}}],
   "mark": {"type": "point", "shape": "M0.87,0A0.87,0.97,0,1,1,-0.87,0A0.87,0.97,0,1,1,0.87,0Z", "size": 144, "filled": false, "strokeWidth": 1, "opacity": 1},
   "encoding": {
    "x": {"field": "k", "type": "quantitative", "scale": {"domain": [-0.95858, -0.03805], "nice": false, "zero": false}, "axis": null},
    "y": {"field": "power", "type": "quantitative", "scale": {"domain": [0, 1], "nice": false, "zero": false}, "axis": null},
    "color": {"field": "test", "type": "nominal", "scale": {"domain": ["new test","JB","DP","SW","CF","KS","Kuiper","Watson","CvM","AD","χ²"], "range": ["#0000ff","#0000ff","#000000","#000000","#ff0000","#ff0000","#00ff00","#00ff00","#ff00ff","#ff00ff","#ff00ff"]}}
   }},
  {"transform": [{"filter": {"field": "test", "oneOf": ["SW","CvM"]}}],
   "mark": {"type": "point", "shape": "M-0.65,-0.8H0.65V0.8H-0.65Z", "size": 144, "filled": false, "strokeWidth": 1, "opacity": 1},
   "encoding": {
    "x": {"field": "k", "type": "quantitative", "scale": {"domain": [-0.95858, -0.03805], "nice": false, "zero": false}, "axis": null},
    "y": {"field": "power", "type": "quantitative", "scale": {"domain": [0, 1], "nice": false, "zero": false}, "axis": null},
    "color": {"field": "test", "type": "nominal", "scale": {"domain": ["new test","JB","DP","SW","CF","KS","Kuiper","Watson","CvM","AD","χ²"], "range": ["#0000ff","#0000ff","#000000","#000000","#ff0000","#ff0000","#00ff00","#00ff00","#ff00ff","#ff00ff","#ff00ff"]}}
   }},
  {"transform": [{"filter": {"field": "test", "oneOf": ["CF","AD"]}}],
   "mark": {"type": "point", "shape": "M0,-1.17L0.77,0L0,1.17L-0.77,0Z", "size": 144, "filled": false, "strokeWidth": 1, "opacity": 1},
   "encoding": {
    "x": {"field": "k", "type": "quantitative", "scale": {"domain": [-0.95858, -0.03805], "nice": false, "zero": false}, "axis": null},
    "y": {"field": "power", "type": "quantitative", "scale": {"domain": [0, 1], "nice": false, "zero": false}, "axis": null},
    "color": {"field": "test", "type": "nominal", "scale": {"domain": ["new test","JB","DP","SW","CF","KS","Kuiper","Watson","CvM","AD","χ²"], "range": ["#0000ff","#0000ff","#000000","#000000","#ff0000","#ff0000","#00ff00","#00ff00","#ff00ff","#ff00ff","#ff00ff"]}}
   }},
  {"transform": [{"filter": {"field": "test", "oneOf": ["KS","χ²"]}}],
   "mark": {"type": "point", "shape": "M0,-1.078L0.197,-0.333L0.834,-0.333L0.319,0.127L0.516,0.872L0,0.412L-0.516,0.872L-0.319,0.127L-0.834,-0.333L-0.197,-0.333Z", "size": 144, "filled": false, "strokeWidth": 1, "opacity": 1},
   "encoding": {
    "x": {"field": "k", "type": "quantitative", "scale": {"domain": [-0.95858, -0.03805], "nice": false, "zero": false}, "axis": null},
    "y": {"field": "power", "type": "quantitative", "scale": {"domain": [0, 1], "nice": false, "zero": false}, "axis": null},
    "color": {"field": "test", "type": "nominal", "scale": {"domain": ["new test","JB","DP","SW","CF","KS","Kuiper","Watson","CvM","AD","χ²"], "range": ["#0000ff","#0000ff","#000000","#000000","#ff0000","#ff0000","#00ff00","#00ff00","#ff00ff","#ff00ff","#ff00ff"]}}
   }},
  {"transform": [{"filter": {"field": "test", "oneOf": ["Kuiper"]}}],
   "mark": {"type": "point", "shape": "M0,-0.917L0.236,-0.458L0.707,-0.458L0.471,0L0.707,0.458L0.236,0.458L0,0.917L-0.236,0.458L-0.707,0.458L-0.471,0L-0.707,-0.458L-0.236,-0.458Z", "size": 144, "filled": false, "strokeWidth": 1, "opacity": 1},
   "encoding": {
    "x": {"field": "k", "type": "quantitative", "scale": {"domain": [-0.95858, -0.03805], "nice": false, "zero": false}, "axis": null},
    "y": {"field": "power", "type": "quantitative", "scale": {"domain": [0, 1], "nice": false, "zero": false}, "axis": null},
    "color": {"field": "test", "type": "nominal", "scale": {"domain": ["new test","JB","DP","SW","CF","KS","Kuiper","Watson","CvM","AD","χ²"], "range": ["#0000ff","#0000ff","#000000","#000000","#ff0000","#ff0000","#00ff00","#00ff00","#ff00ff","#ff00ff","#ff00ff"]}}
   }}
 ]
}
],
"config": {
 "font": "Liberation Sans",
 "view": {"stroke": "#262626", "strokeWidth": 1},
 "axis": {"domain": false, "grid": false, "tickSize": -5, "tickColor": "#262626", "tickWidth": 1, "labelFont": "Liberation Sans", "labelFontSize": 20, "labelColor": "#262626", "titleFont": "Liberation Sans", "titleFontSize": 24.5, "titleFontWeight": "normal", "titleColor": "#262626", "labelOverlap": false},
 "axisX": {"labelPadding": 23, "titlePadding": 2, "labelFlush": false},
 "axisY": {"labelPadding": 18.4, "titlePadding": 2.5},
 "title": {"font": "Liberation Sans", "fontSize": 24.5, "fontWeight": "bold", "color": "#000000", "offset": -8.6, "baseline": "alphabetic", "anchor": "middle"},
 "legend": {"padding": 7, "columnPadding": 10.9, "rowPadding": 7.8, "symbolSize": 2304, "symbolStrokeWidth": 1, "symbolOpacity": 1, "clipHeight": 20, "labelFont": "Liberation Sans", "labelFontSize": 19.8, "labelColor": "#000000", "labelOffset": 4, "labelLimit": 300, "strokeColor": "#262626", "fillColor": "#ffffff", "symbolFillColor": "transparent"}
}
}
